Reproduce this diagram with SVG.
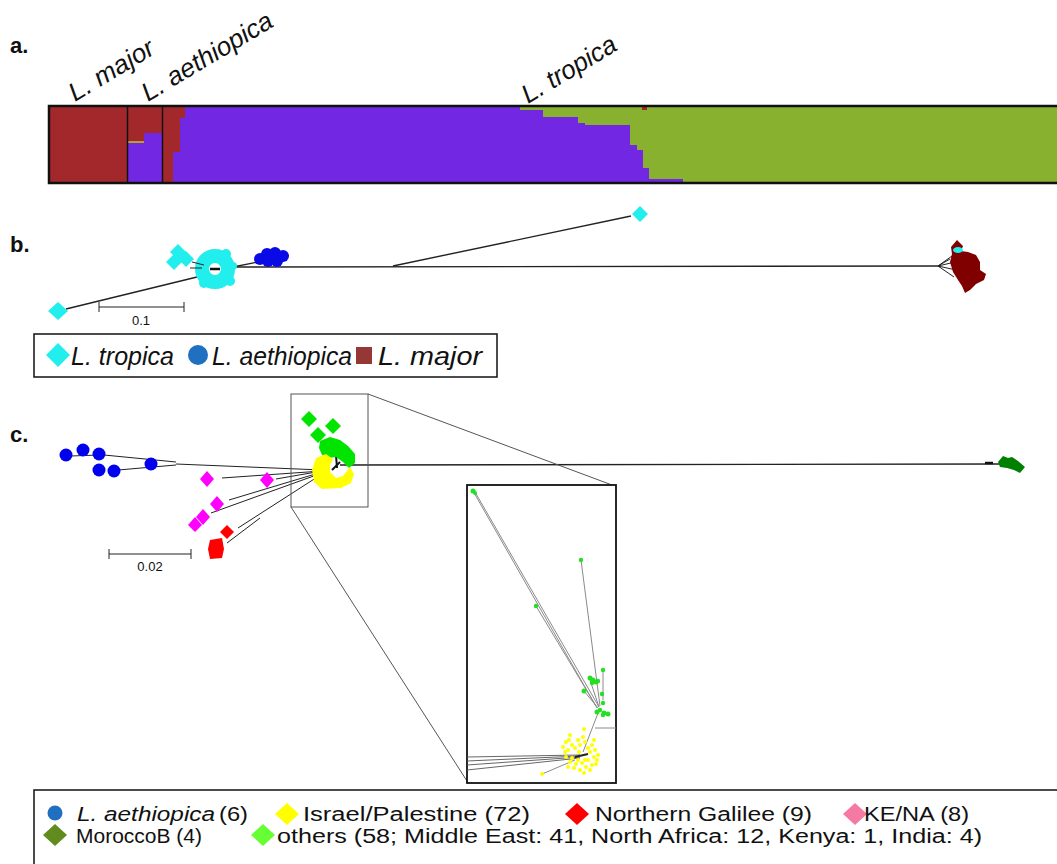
<svg xmlns="http://www.w3.org/2000/svg" width="1057" height="864" viewBox="0 0 1057 864">
<style>
text{font-family:"Liberation Sans",Arial,sans-serif;fill:#111}
.lab{font-weight:bold;font-size:22px}
.it{font-style:italic}
.sp{font-size:26px;font-style:italic}
.lg{font-size:25px;font-style:italic}
.lc{font-size:20px}
.sc{font-size:13px}
.br{stroke:#222;stroke-width:1.4;fill:none}
.thin{stroke:#222;stroke-width:1;fill:none}
.gl{stroke:#8a8a8a;stroke-width:1;fill:none}
.red{fill:#a3282b}
.pur{fill:#7228e2}
.grn{fill:#87b12e}
.cy{fill:#22eeee}
.bl{fill:#0a0ae6}
.cb{fill:#0000ee}
.mg{fill:#ff00ff}
.rd{fill:#ff0000}
.lgG{fill:#00e400}
.ye{fill:#ffff00}
</style>
<defs>
<polygon id="dm" points="0,-8 8,0 0,8 -8,0"/>
<circle id="dot" r="6.5"/>
</defs>
<rect width="1057" height="864" fill="#fff"/>

<!-- Panel a -->
<g id="panel-a">
<text class="lab" x="10" y="53">a.</text>
<text class="sp" transform="translate(75,102) rotate(-31)" textLength="95" lengthAdjust="spacingAndGlyphs">L. major</text>
<text class="sp" transform="translate(148,102) rotate(-31)" textLength="148" lengthAdjust="spacingAndGlyphs">L. aethiopica</text>
<text class="sp" transform="translate(528,104) rotate(-31)" textLength="106" lengthAdjust="spacingAndGlyphs">L. tropica</text>
<rect class="pur" x="49" y="106" width="1012" height="77"/>
<rect class="red" x="49" y="106" width="78" height="77"/>
<rect class="red" x="127" y="106" width="17" height="37"/>
<rect class="red" x="144" y="106" width="18" height="27"/>
<rect class="red" x="162" y="106" width="11" height="77"/>
<rect class="red" x="173" y="106" width="7" height="46"/>
<rect class="red" x="180" y="106" width="5" height="12"/>
<rect x="128" y="141" width="16" height="2" fill="#b8a030"/>
<rect class="grn" x="520" y="106" width="23" height="4"/>
<rect class="grn" x="543" y="106" width="35" height="11"/>
<rect class="grn" x="578" y="106" width="7" height="17"/>
<rect class="grn" x="585" y="106" width="45" height="19"/>
<rect class="grn" x="630" y="106" width="7" height="39"/>
<rect class="grn" x="637" y="106" width="6" height="44"/>
<rect class="grn" x="643" y="106" width="6" height="62"/>
<rect class="grn" x="649" y="106" width="34" height="73"/>
<rect class="grn" x="683" y="106" width="378" height="77"/>
<rect x="642" y="107" width="5" height="3" fill="#a3282b"/>
<line x1="127.5" y1="106" x2="127.5" y2="183" stroke="#111" stroke-width="1.5"/>
<line x1="162.5" y1="106" x2="162.5" y2="183" stroke="#111" stroke-width="1.5"/>
<rect x="49" y="106" width="1012" height="77" fill="none" stroke="#111" stroke-width="2.5"/>
</g>

<!-- Panel b -->
<g id="panel-b">
<text class="lab" x="10" y="252">b.</text>
<g id="b-connectors">
<line class="br" x1="233" y1="267" x2="940" y2="266"/>
<line class="br" x1="393" y1="266" x2="631" y2="216"/>
<line class="br" x1="197" y1="277" x2="66" y2="309"/>
<line class="br" x1="233" y1="267" x2="258" y2="262"/>
<line class="thin" x1="938" y1="266" x2="952" y2="256"/>
<line class="thin" x1="938" y1="266" x2="955" y2="262"/>
<line class="thin" x1="938" y1="266" x2="956" y2="270"/>
<line class="thin" x1="938" y1="266" x2="954" y2="277"/>
<line class="thin" x1="938" y1="266" x2="950" y2="259"/>
</g>
<g id="b-tropica">
<circle cx="215" cy="269" r="13" fill="none" stroke="#22eeee" stroke-width="14"/>
<circle class="cy" cx="226" cy="254" r="5"/>
<circle class="cy" cx="230" cy="281" r="5"/>
<circle class="cy" cx="204" cy="283" r="5"/>
<circle class="cy" cx="233" cy="266" r="4"/>
<use href="#dm" class="cy" x="178" y="252"/>
<use href="#dm" class="cy" x="174" y="262"/>
<use href="#dm" class="cy" x="186" y="259"/>
<use href="#dm" class="cy" x="640" y="214"/>
<polygon class="cy" points="58,302 68,311 58,320 48,311"/>
<line class="thin" x1="192" y1="262" x2="204" y2="265"/>
<line class="thin" x1="190" y1="268" x2="202" y2="268"/>
<line x1="210" y1="269" x2="220" y2="269" stroke="#111" stroke-width="2.5"/>
</g>
<g id="b-aethiopica">
<circle class="bl" cx="260" cy="259" r="6"/>
<circle class="bl" cx="267" cy="254" r="6"/>
<circle class="bl" cx="275" cy="253" r="6"/>
<circle class="bl" cx="283" cy="256" r="6"/>
<circle class="bl" cx="268" cy="261" r="6"/>
<circle class="bl" cx="277" cy="261" r="6"/>
</g>
<g id="b-major">
<polygon fill="#800000" points="957,240 963,246 961,251 968,252 976,255 980,262 980,270 986,274 984,280 976,284 970,290 965,293 962,286 958,280 953,272 950,262 952,254 951,247"/>
<ellipse class="cy" cx="958" cy="250" rx="5" ry="3"/>
</g>
<g id="b-scale">
<line class="thin" x1="99" y1="307" x2="184" y2="307"/>
<line class="thin" x1="99" y1="302" x2="99" y2="312"/>
<line class="thin" x1="184" y1="302" x2="184" y2="312"/>
<text class="sc" x="141" y="325" text-anchor="middle">0.1</text>
</g>
<g id="b-legend">
<rect x="34" y="334" width="463" height="43" fill="#fff" stroke="#111" stroke-width="1.5"/>
<polygon class="cy" points="58,343 70,355 58,367 46,355"/>
<text class="lg" x="71" y="365" textLength="103" lengthAdjust="spacingAndGlyphs">L. tropica</text>
<circle cx="198" cy="355" r="10" fill="#1f70c1"/>
<text class="lg" x="212" y="365" textLength="140" lengthAdjust="spacingAndGlyphs">L. aethiopica</text>
<rect x="356" y="347" width="16" height="17" fill="#953735"/>
<text class="lg" x="378" y="365" textLength="104" lengthAdjust="spacingAndGlyphs">L. major</text>
</g>
</g>

<!-- Panel c -->
<g id="panel-c">
<text class="lab" x="10" y="442">c.</text>
<g id="connectors">
<line class="br" x1="340" y1="465" x2="1000" y2="464"/>
<line x1="985" y1="463" x2="993" y2="463" stroke="#111" stroke-width="2.5"/>
<line class="thin" x1="104" y1="455" x2="176" y2="462"/>
<line class="thin" x1="118" y1="470" x2="176" y2="465"/>
<line class="thin" x1="70" y1="456" x2="100" y2="455"/>
<line class="thin" x1="176" y1="464" x2="322" y2="470"/>
<line class="thin" x1="222" y1="478" x2="322" y2="471"/>
<line class="thin" x1="276" y1="479" x2="322" y2="471"/>
<line class="thin" x1="229" y1="500" x2="322" y2="472"/>
<line class="thin" x1="211" y1="513" x2="322" y2="473"/>
<line class="thin" x1="238" y1="528" x2="322" y2="474"/>
<line class="thin" x1="227" y1="543" x2="260" y2="518"/>
<line x1="332" y1="470" x2="340" y2="462" stroke="#111" stroke-width="2"/>
<line x1="336" y1="455" x2="337" y2="468" stroke="#111" stroke-width="2"/>
<rect x="291" y="394" width="77" height="113" fill="none" stroke="#555" stroke-width="1"/>
<line x1="368" y1="394" x2="612" y2="485" stroke="#555" stroke-width="1"/>
<line x1="291" y1="507" x2="467" y2="781" stroke="#555" stroke-width="1"/>
</g>
<g id="c-aethiopica">
<use href="#dot" class="cb" x="66" y="455"/>
<use href="#dot" class="cb" x="83" y="450"/>
<use href="#dot" class="cb" x="99" y="454"/>
<use href="#dot" class="cb" x="99" y="470"/>
<use href="#dot" class="cb" x="114" y="471"/>
<use href="#dot" class="cb" x="151" y="464"/>
</g>
<g id="c-kena">
<polygon class="mg" points="207,471 214,479 207,487 200,479"/>
<polygon class="mg" points="267,472 274,480 267,488 260,480"/>
<polygon class="mg" points="217,496 224,504 217,512 210,504"/>
<polygon class="mg" points="203,509 210,517 203,525 196,517"/>
<polygon class="mg" points="195,517 202,525 195,532 188,525"/>
</g>
<g id="c-galilee">
<polygon class="rd" points="227,525 234,532 227,539 220,532"/>
<polygon class="rd" points="210,540 222,538 224,549 222,558 210,559 208,549"/>
</g>
<g id="c-others">
<polygon class="lgG" points="309,411 317,419 309,427 301,419"/>
<polygon class="lgG" points="333,418 341,426 333,434 325,426"/>
<polygon class="lgG" points="318,427 326,435 318,443 310,435"/>
<polygon class="lgG" points="320,441 330,437 340,440 348,446 355,454 355,463 349,468 343,462 336,457 328,458 322,455 319,448"/>
</g>
<g id="c-israel">
<path class="ye" d="M316,458 L326,454 L333,459 L330,465 L330,472 L336,478 L343,476 L350,467 L354,474 L351,483 L341,488 L322,489 L314,482 L312,470 Z"/>
</g>
<g id="c-moroccob">
<polygon fill="#008000" points="998,462 1003,456 1008,458 1012,457 1018,461 1025,467 1020,473 1014,470 1007,468 1000,467"/>
</g>
<g id="c-scale">
<line class="thin" x1="109" y1="554" x2="191" y2="554"/>
<line class="thin" x1="109" y1="549" x2="109" y2="559"/>
<line class="thin" x1="191" y1="549" x2="191" y2="559"/>
<text class="sc" x="150" y="571" text-anchor="middle">0.02</text>
</g>
<g id="c-inset">
<rect x="467" y="485" width="149" height="298" fill="#fff" stroke="#111" stroke-width="1.8"/>
<g class="gl">
<line x1="473" y1="491" x2="597" y2="708"/>
<line x1="475" y1="492" x2="599" y2="707"/>
<line x1="536" y1="606" x2="596" y2="706"/>
<line x1="581" y1="560" x2="600" y2="706"/>
<line x1="603" y1="670" x2="603" y2="700"/>
<line x1="584" y1="691" x2="598" y2="708"/>
<line x1="590" y1="680" x2="599" y2="707"/>
<line x1="600" y1="708" x2="583" y2="752"/>
<line x1="595" y1="728" x2="616" y2="728"/>
<line x1="542" y1="774" x2="575" y2="760"/>
</g>
<g stroke="#555" stroke-width="0.9">
<line x1="467" y1="757" x2="580" y2="755"/>
<line x1="467" y1="761" x2="580" y2="756"/>
<line x1="467" y1="765" x2="580" y2="757"/>
<line x1="467" y1="770" x2="580" y2="758"/>
<line x1="575" y1="757" x2="588" y2="754" stroke="#222" stroke-width="2"/>
</g>
<g fill="#ffff00">
<circle cx="570" cy="735" r="2"/><circle cx="584" cy="729" r="2"/><circle cx="578" cy="740" r="2"/><circle cx="566" cy="742" r="2"/><circle cx="572" cy="745" r="2"/><circle cx="568" cy="750" r="2"/><circle cx="575" cy="748" r="2"/><circle cx="580" cy="745" r="2"/><circle cx="585" cy="742" r="2"/><circle cx="588" cy="748" r="2"/><circle cx="592" cy="745" r="2"/><circle cx="595" cy="750" r="2"/><circle cx="590" cy="752" r="2"/><circle cx="585" cy="760" r="2"/><circle cx="578" cy="760" r="2"/><circle cx="572" cy="758" r="2"/><circle cx="566" cy="757" r="2"/><circle cx="570" cy="762" r="2"/><circle cx="576" cy="764" r="2"/><circle cx="582" cy="763" r="2"/><circle cx="588" cy="760" r="2"/><circle cx="594" cy="757" r="2"/><circle cx="597" cy="760" r="2"/><circle cx="592" cy="765" r="2"/><circle cx="586" cy="767" r="2"/><circle cx="580" cy="770" r="2"/><circle cx="574" cy="768" r="2"/><circle cx="584" cy="773" r="2"/><circle cx="590" cy="770" r="2"/><circle cx="596" cy="764" r="2"/><circle cx="565" cy="752" r="2"/><circle cx="569" cy="740" r="2"/><circle cx="583" cy="737" r="2"/><circle cx="579" cy="752" r="2"/><circle cx="598" cy="755" r="2"/><circle cx="563" cy="747" r="2"/><circle cx="568" cy="767" r="2"/><circle cx="594" cy="740" r="2"/><circle cx="542" cy="774" r="2"/>
</g>
<g fill="#22e022">
<circle cx="473" cy="491" r="2.5"/><circle cx="475" cy="493" r="2"/><circle cx="581" cy="560" r="2.2"/><circle cx="536" cy="606" r="2.2"/><circle cx="603" cy="670" r="2.2"/><circle cx="590" cy="678" r="2.5"/><circle cx="593" cy="680" r="2.5"/><circle cx="596" cy="682" r="2.5"/><circle cx="598" cy="681" r="2.2"/><circle cx="592" cy="683" r="2.2"/><circle cx="584" cy="691" r="2.5"/><circle cx="602" cy="694" r="2.2"/><circle cx="603" cy="703" r="2.2"/><circle cx="597" cy="712" r="2.5"/><circle cx="600" cy="710" r="2.2"/><circle cx="604" cy="713" r="2.5"/><circle cx="608" cy="714" r="2.5"/><circle cx="603" cy="715" r="2.2"/>
</g>
</g>
<g id="c-legend">
<rect x="34" y="790" width="1030" height="80" fill="#fff" stroke="#111" stroke-width="1.5"/>
<circle cx="55" cy="813" r="7.5" fill="#1f70c1"/>
<text class="lc it" x="77" y="821" textLength="138" lengthAdjust="spacingAndGlyphs">L. aethiopica</text>
<text class="lc" x="219" y="821" textLength="29" lengthAdjust="spacingAndGlyphs">(6)</text>
<polygon fill="#ffff00" points="287,803 299,814 287,825 275,814"/>
<text class="lc" x="303" y="821" textLength="227" lengthAdjust="spacingAndGlyphs">Israel/Palestine (72)</text>
<polygon fill="#ff0000" points="577,803 589,814 577,825 565,814"/>
<text class="lc" x="595" y="821" textLength="217" lengthAdjust="spacingAndGlyphs">Northern Galilee (9)</text>
<polygon fill="#f57aa3" points="855,803 867,814 855,825 843,814"/>
<text class="lc" x="864" y="821" textLength="105" lengthAdjust="spacingAndGlyphs">KE/NA (8)</text>
<polygon fill="#5f8c1c" points="55,824 67,835 55,846 43,835"/>
<text class="lc" x="76" y="843" textLength="126" lengthAdjust="spacingAndGlyphs">MoroccoB (4)</text>
<polygon fill="#66ff33" points="263,824 275,835 263,846 251,835"/>
<text class="lc" x="277" y="843" textLength="705" lengthAdjust="spacingAndGlyphs">others (58; Middle East: 41, North Africa: 12, Kenya: 1, India: 4)</text>
</g>
</g>
</svg>
